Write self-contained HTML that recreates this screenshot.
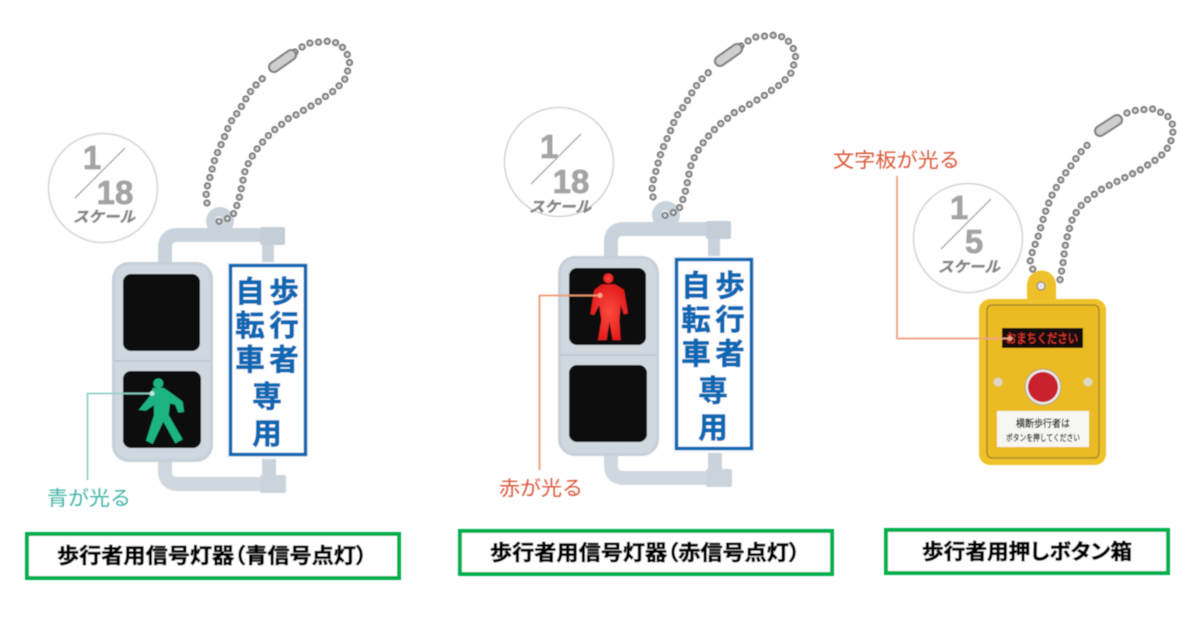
<!DOCTYPE html>
<html lang="ja"><head><meta charset="utf-8"><title>歩行者用信号灯器</title>
<style>
html,body{margin:0;padding:0;background:#fff}
svg{display:block}
text{font-family:"Liberation Sans","Noto Sans CJK JP",sans-serif}
.sign{font-size:29.500px;font-weight:700;fill:#1168b4;stroke:#1168b4;stroke-width:.7px;text-anchor:middle}
.lab{font-size:21px;fill:#000;font-weight:700;stroke:#000;stroke-width:.6px;font-feature-settings:"palt"}
.note{font-size:20px}
.num{font-weight:700;fill:#a4a4a4;stroke:#a4a4a4;stroke-width:.8px;font-size:33px;text-anchor:middle}
.sc{font-weight:700;fill:#858585;stroke:#858585;stroke-width:.5px;font-size:15px;text-anchor:middle}
</style></head><body>
<svg width="1200" height="630" viewBox="0 0 1200 630" xmlns="http://www.w3.org/2000/svg">
<defs>
<filter id="b" x="-5%" y="-5%" width="110%" height="110%"><feGaussianBlur stdDeviation="0.65"/></filter>
<radialGradient id="rg"><stop offset="0" stop-color="#fb4a3e"/><stop offset="1" stop-color="#e51e1e"/></radialGradient>
<g id="chain" fill="none" stroke-linecap="round" stroke-linejoin="round">
  <path d="M207 203L206 193L208 183L211 174L213 165L216 156L220 147L224 138L228 128L232 120L238 112L243 104L248 95L254 87L261 80L268 73M295 52L302 47L310 43L320 42L330 41L340 44L346 52L350 60L348 70L345 79L338 87L331 93L323 98L315 104L307 108L298 114L289 118L282 124L273 131L267 137L260 145L254 153L249 162L245 171L243 180L241 190L239 199L236 208L232 217L223 220L217 222" stroke="#787878" stroke-width="7.200" stroke-dasharray="0 8.700"/>
  <path d="M207 203L206 193L208 183L211 174L213 165L216 156L220 147L224 138L228 128L232 120L238 112L243 104L248 95L254 87L261 80L268 73M295 52L302 47L310 43L320 42L330 41L340 44L346 52L350 60L348 70L345 79L338 87L331 93L323 98L315 104L307 108L298 114L289 118L282 124L273 131L267 137L260 145L254 153L249 162L245 171L243 180L241 190L239 199L236 208L232 217L223 220L217 222" stroke="#dcdcdc" stroke-width="3.400" stroke-dasharray="0 8.700"/>
  <path d="M274 67L291 55" stroke="#7e7e7e" stroke-width="12"/>
  <path d="M274 67L291 55" stroke="#cfcfcf" stroke-width="8"/>
</g>
<g id="sigbase">
  <circle cx="220" cy="221" r="14" fill="#c9d3dc"/>
  <rect x="262" y="240" width="12" height="24" fill="#c9d3dc"/>
  <rect x="262" y="456" width="14" height="22" fill="#c9d3dc"/>
  <path d="M165 264V248Q165 235 178 235H268" fill="none" stroke="#c9d3dc" stroke-width="14"/>
  <rect x="260" y="227" width="25" height="18" rx="2" fill="#c4ced7"/>
  <path d="M165 460V471Q165 484 178 484H268" fill="none" stroke="#d0d8df" stroke-width="14"/>
  <rect x="260" y="475" width="26" height="18" rx="2" fill="#ccd4db"/>
  <rect x="112" y="262" width="101" height="200" rx="17" fill="#c6d0d9"/>
  <rect x="115" y="265" width="95" height="194" rx="14" fill="#cfd7df"/>
  <line x1="114" y1="361" x2="211" y2="361" stroke="#bcc6d0" stroke-width="1.500"/>
  <rect x="123" y="274" width="77" height="77" rx="8" fill="#0f0d0d"/>
  <rect x="123" y="371" width="78" height="77" rx="8" fill="#0f0d0d"/>
  <rect x="226" y="262" width="83" height="197" fill="#f8fafb"/>
  <rect x="230.500" y="265.500" width="75" height="189" fill="#fff" stroke="#1168b4" stroke-width="3.500"/>
  <circle cx="219" cy="220" r="3.500" fill="#fff"/>
</g>
</defs>

<g filter="url(#b)">
<!-- circles -->
<circle cx="103" cy="188" r="54.500" fill="#fff" stroke="#d4d4d4" stroke-width="1.500"/>
<line x1="75" y1="198" x2="125" y2="148" stroke="#a4a4a4" stroke-width="1.300"/>
<text class="num" x="92" y="169">1</text>
<text class="num" x="115" y="204">18</text>
<text class="sc" transform="translate(104 222) skewX(-14)" textLength="62" lengthAdjust="spacingAndGlyphs">スケール</text>

<circle cx="559" cy="162" r="54.500" fill="#fff" stroke="#d4d4d4" stroke-width="1.500"/>
<line x1="531" y1="184" x2="581" y2="134" stroke="#a4a4a4" stroke-width="1.300"/>
<text class="num" x="549" y="158">1</text>
<text class="num" x="571" y="193">18</text>
<text class="sc" transform="translate(560 212) skewX(-14)" textLength="62" lengthAdjust="spacingAndGlyphs">スケール</text>

<circle cx="968" cy="238" r="54.500" fill="#fff" stroke="#d4d4d4" stroke-width="1.500"/>
<line x1="941" y1="249" x2="991" y2="199" stroke="#a4a4a4" stroke-width="1.300"/>
<text class="num" x="959" y="219">1</text>
<text class="num" x="974" y="253">5</text>
<text class="sc" transform="translate(969 272) skewX(-14)" textLength="62" lengthAdjust="spacingAndGlyphs">スケール</text>

<!-- left signal -->
<use href="#sigbase"/>
<use href="#chain"/>
<g transform="translate(30 360) scale(.33333)" fill="#1fb482">
  <circle cx="385" cy="70" r="15"/>
  <path d="M368 84H402L425 100L458 125L462 156L445 158L435 134L420 130L416 165L458 238L436 250L400 185L368 252L348 242L372 165L372 135L348 152L326 150L362 105Z"/>
</g>
<text class="sign" x="284" y="302">歩</text>
<text class="sign" x="284" y="336">行</text>
<text class="sign" x="284" y="370">者</text>
<text class="sign" x="250" y="302">自</text>
<text class="sign" x="250" y="336">転</text>
<text class="sign" x="250" y="370">車</text>
<text class="sign" x="267" y="407">専</text>
<text class="sign" x="267" y="444">用</text>
<path d="M87.500 480V393.500H152" fill="none" stroke="#8fd3c8" stroke-width="1.800"/>
<circle cx="152" cy="393.500" r="2.500" fill="#bfe8df"/>
<text class="note" x="47" y="505" fill="#45b5a8" textLength="84" lengthAdjust="spacingAndGlyphs">青が光る</text>

<!-- middle signal -->
<g transform="translate(446 -6)"><use href="#sigbase"/><use href="#chain"/></g>
<g transform="translate(490 190) scale(.33333)" fill="url(#rg)">
  <circle cx="355" cy="265" r="15"/>
  <path d="M335 283H375L402 300L414 370L402 373L392 345L388 390L392 450L368 450L358 395L350 450L324 450L334 390L328 345L312 375L301 372L313 300Z"/>
</g>
<text class="sign" x="730" y="296">歩</text>
<text class="sign" x="730" y="330">行</text>
<text class="sign" x="730" y="364">者</text>
<text class="sign" x="696" y="296">自</text>
<text class="sign" x="696" y="330">転</text>
<text class="sign" x="696" y="364">車</text>
<text class="sign" x="713" y="401">専</text>
<text class="sign" x="713" y="438">用</text>
<path d="M539.500 470V295.500H600" fill="none" stroke="#ee9a72" stroke-width="1.800"/>
<circle cx="600" cy="295.500" r="2.500" fill="#f5a98c"/>
<text class="note" x="499" y="495" fill="#dc5a3c" textLength="84" lengthAdjust="spacingAndGlyphs">赤が光る</text>

<!-- right box -->
<g fill="none" stroke-linecap="round" stroke-linejoin="round">
  <path d="M1040 285L1033 270L1030 260L1033 250L1038 237L1042 223L1047 207L1053 193L1062 178L1070 167L1080 153L1092 140M1127 113L1137 110L1153 109L1167 115L1174 127L1170 145L1160 157L1140 170L1120 180L1100 190L1083 203L1073 217L1068 233L1065 247L1063 263L1060 280" stroke="#787878" stroke-width="7.200" stroke-dasharray="0 8.700"/>
  <path d="M1040 285L1033 270L1030 260L1033 250L1038 237L1042 223L1047 207L1053 193L1062 178L1070 167L1080 153L1092 140M1127 113L1137 110L1153 109L1167 115L1174 127L1170 145L1160 157L1140 170L1120 180L1100 190L1083 203L1073 217L1068 233L1065 247L1063 263L1060 280" stroke="#dcdcdc" stroke-width="3.400" stroke-dasharray="0 8.700"/>
  <path d="M1100 131L1117 120" stroke="#7e7e7e" stroke-width="12"/>
  <path d="M1100 131L1117 120" stroke="#cfcfcf" stroke-width="8"/>
</g>
<path d="M1027 302V285A14.500 14.500 0 0 1 1056 285V302Z" fill="#eec02c"/>
<circle cx="1041" cy="286" r="4" fill="#e8e8e8" stroke="#777" stroke-width="1"/>
<rect x="979" y="299" width="127" height="166" rx="11" fill="#f0c22c"/>
<rect x="987" y="305" width="112" height="153" rx="5" fill="#eabb24" stroke="#a98a28" stroke-width="1.500"/>
<rect x="1002" y="328" width="81" height="20" fill="#120c08"/>
<text x="1042" y="343" font-size="13" fill="#e0382c" stroke="#e0382c" stroke-width=".3" text-anchor="middle" textLength="72" lengthAdjust="spacingAndGlyphs">おまちください</text>
<circle cx="1043" cy="387" r="18" fill="#e8e8e8" stroke="#b5a06a" stroke-width="1"/>
<circle cx="1043" cy="387" r="15" fill="#c8202e"/>
<circle cx="998" cy="382" r="4.500" fill="#ddd8c2"/>
<circle cx="1088" cy="382" r="4.500" fill="#ddd8c2"/>
<rect x="997" y="411" width="92" height="36" fill="#f6f6f4"/>
<text x="1043" y="427" font-size="10" fill="#111" stroke="#111" stroke-width=".25" text-anchor="middle" textLength="54" lengthAdjust="spacingAndGlyphs">横断歩行者は</text>
<text x="1043" y="441" font-size="9" fill="#111" stroke="#111" stroke-width=".25" text-anchor="middle" textLength="74" lengthAdjust="spacingAndGlyphs">ボタンを押してください</text>
<path d="M897 176V338.500H1010" fill="none" stroke="#f0a080" stroke-width="1.800"/>
<circle cx="1010" cy="338.500" r="2.500" fill="#f09a80"/>
<text class="note" x="833" y="167" fill="#dc5a3c" textLength="127" lengthAdjust="spacingAndGlyphs">文字板が光る</text>

<!-- labels -->
<rect x="27" y="534" width="372" height="44" fill="#fff" stroke="#00b050" stroke-width="4"/>
<text class="lab" x="57" y="563" textLength="310" lengthAdjust="spacingAndGlyphs">歩行者用信号灯器（青信号点灯）</text>
<rect x="460" y="531" width="372" height="43" fill="#fff" stroke="#00b050" stroke-width="4"/>
<text class="lab" x="490" y="560" textLength="310" lengthAdjust="spacingAndGlyphs">歩行者用信号灯器（赤信号点灯）</text>
<rect x="886" y="530" width="282" height="43" fill="#fff" stroke="#00b050" stroke-width="4"/>
<text class="lab" x="922" y="559" textLength="210" lengthAdjust="spacingAndGlyphs">歩行者用押しボタン箱</text>
</g>
</svg>
</body></html>
